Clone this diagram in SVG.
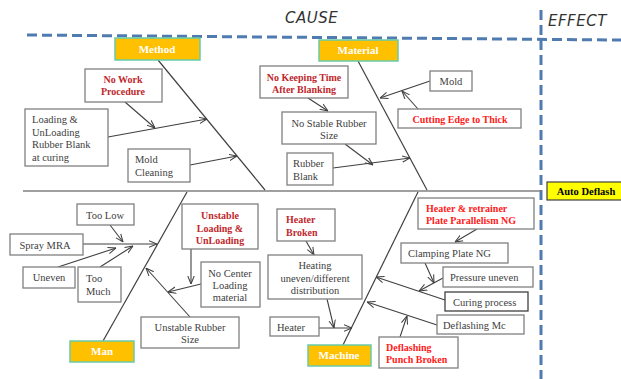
<svg xmlns="http://www.w3.org/2000/svg" width="621" height="379" viewBox="0 0 621 379">
<style>
.box{fill:#fff;stroke:#808080;stroke-width:1.3}
.cat{fill:#ffc000;stroke:#66ccaa;stroke-width:1.5}
.cl{font-family:"Liberation Serif",serif;font-weight:bold;font-size:11px;fill:#fff;text-anchor:middle}
.t{font-family:"Liberation Serif",serif;font-size:10.5px;fill:#404040}
.r{font-family:"Liberation Serif",serif;font-size:10px;font-weight:bold;fill:#c0282d}
.rb{font-family:"Liberation Serif",serif;font-size:10px;font-weight:bold;fill:#ff1a1a}
.c{text-anchor:middle}
.ln{stroke:#404040;stroke-width:1.2;fill:none}
.ar{stroke:#404040;stroke-width:1.1;fill:none;marker-end:url(#a)}
.dash{stroke:#4f7bb0;stroke-width:3;stroke-dasharray:10 5;fill:none}
.hd{font-family:"DejaVu Sans",sans-serif;font-size:15px;font-style:italic;fill:#333;letter-spacing:0.5px}
</style>
<defs>
<marker id="a" viewBox="0 0 10 10" refX="10" refY="5" markerWidth="8" markerHeight="8" orient="auto" markerUnits="userSpaceOnUse">
<path d="M0,1 L10,5 L0,9" fill="none" stroke="#404040" stroke-width="1.3"/>
</marker>
</defs>
<rect width="621" height="379" fill="#fff"/>
<g id="frame">
<line class="dash" x1="27" y1="35" x2="621" y2="40"/>
<line class="dash" x1="541" y1="10" x2="541" y2="379"/>
<text class="hd" x="285" y="23">CAUSE</text>
<text class="hd" x="548" y="26">EFFECT</text>
</g>
<g id="connectors">
<line x1="23" y1="191" x2="541" y2="191" stroke="#808080" stroke-width="1.5"/>
<line class="ln" x1="158" y1="60" x2="265" y2="190"/>
<line class="ln" x1="358" y1="61" x2="427" y2="190"/>
<line class="ln" x1="103" y1="341" x2="187" y2="192"/>
<line class="ln" x1="343" y1="345" x2="418" y2="192"/>
<path class="ar" d="M108,137 L207,119"/>
<path class="ar" d="M125,102 L155,128"/>
<path class="ar" d="M190,165 L237,156"/>
<path class="ar" d="M308,98 L328,111"/>
<path class="ar" d="M333,168 L410,158"/>
<path class="ar" d="M345,144 L373,165"/>
<path class="ar" d="M430,81 L380,98"/>
<path class="ar" d="M418,109 L402,91"/>
<path class="ar" d="M83,244 L157,244"/>
<path class="ar" d="M110,225 L123,242"/>
<path class="ar" d="M58,267 L116,248"/>
<path class="ar" d="M100,267 L133,246"/>
<path class="ar" d="M191,249 L191,284"/>
<path class="ar" d="M201,284 L168,292"/>
<path class="ar" d="M190,317 L146,268"/>
<path class="ar" d="M306,241 L314,255"/>
<path class="ar" d="M319,328 L352,328"/>
<path class="ar" d="M327,299 L334,328"/>
<path class="ar" d="M477,229 L455,242"/>
<path class="ar" d="M425,263 L434,283"/>
<path class="ar" d="M445,300 L376,277"/>
<path class="ar" d="M443,278 L419,291"/>
<path class="ar" d="M437,325 L367,302"/>
<path class="ar" d="M400,337 L407,316"/>
</g>
<g id="method"><rect class="cat" x="115" y="38" width="85" height="22"/><text class="cl" x="157" y="53">Method</text></g>
<g id="material"><rect class="cat" x="319" y="40" width="79" height="21"/><text class="cl" x="358" y="54">Material</text></g>
<g id="man"><rect class="cat" x="70" y="341" width="64" height="21"/><text class="cl" x="102" y="355">Man</text></g>
<g id="machine"><rect class="cat" x="308" y="345" width="63" height="21"/><text class="cl" x="339" y="359">Machine</text></g>
<g id="auto-deflash"><rect x="547" y="182" width="76" height="18" fill="#ffff00" stroke="#404040" stroke-width="1.2"/><text x="586" y="195" font-family="Liberation Serif,serif" font-weight="bold" font-size="10.5px" fill="#000" text-anchor="middle">Auto Deflash</text></g>
<g id="no-work"><rect class="box" x="85" y="69" width="77" height="33"/><text class="r c" x="123" y="83">No Work</text><text class="r c" x="123" y="95">Procedure</text></g>
<g id="loading"><rect class="box" x="25" y="109" width="83" height="57"/><text class="t" x="32" y="123">Loading &amp;</text><text class="t" x="32" y="136">UnLoading</text><text class="t" x="32" y="148">Rubber  Blank</text><text class="t" x="32" y="161">at curing</text></g>
<g id="mold-cleaning"><rect class="box" x="128" y="149" width="62" height="33"/><text class="t" x="135" y="163">Mold</text><text class="t" x="135" y="176">Cleaning</text></g>
<g id="no-keeping"><rect class="box" x="260" y="66" width="88" height="32"/><text class="r c" x="304" y="81">No Keeping Time</text><text class="r c" x="304" y="93">After Blanking</text></g>
<g id="no-stable"><rect class="box" x="282" y="112" width="94" height="32"/><text class="t c" x="329" y="127">No Stable Rubber</text><text class="t c" x="329" y="139">Size</text></g>
<g id="rubber-blank"><rect class="box" x="287" y="153" width="46" height="32"/><text class="t" x="293" y="167">Rubber</text><text class="t" x="293" y="180">Blank</text></g>
<g id="mold"><rect class="box" x="430" y="71" width="42" height="20"/><text class="t c" x="451" y="85">Mold</text></g>
<g id="cutting"><rect class="box" x="398" y="109" width="123" height="19"/><text class="rb c" x="460" y="123">Cutting Edge to Thick</text></g>
<g id="too-low"><rect class="box" x="77" y="204" width="57" height="21"/><text class="t c" x="105" y="219">Too Low</text></g>
<g id="spray"><rect class="box" x="10" y="234" width="73" height="21"/><text class="t c" x="45" y="249">Spray MRA</text></g>
<g id="uneven"><rect class="box" x="23" y="267" width="52" height="21"/><text class="t c" x="49" y="281">Uneven</text></g>
<g id="too-much"><rect class="box" x="78" y="267" width="43" height="35"/><text class="t" x="86" y="282">Too</text><text class="t" x="86" y="295">Much</text></g>
<g id="unstable-loading"><rect class="box" x="182" y="204" width="76" height="45"/><text class="r c" x="220" y="219">Unstable</text><text class="r c" x="220" y="232">Loading &amp;</text><text class="r c" x="220" y="244">UnLoading</text></g>
<g id="no-center"><rect class="box" x="201" y="262" width="59" height="45"/><text class="t c" x="230" y="277">No Center</text><text class="t c" x="230" y="289">Loading</text><text class="t c" x="230" y="301">material</text></g>
<g id="unstable-rubber"><rect class="box" x="141" y="317" width="98" height="31"/><text class="t c" x="190" y="331">Unstable Rubber</text><text class="t c" x="190" y="343">Size</text></g>
<g id="heater-broken"><rect class="box" x="277" y="209" width="58" height="32"/><text class="r" x="286" y="223">Heater</text><text class="r" x="286" y="236">Broken</text></g>
<g id="heating"><rect class="box" x="268" y="255" width="94" height="44"/><text class="t c" x="315" y="269">Heating</text><text class="t c" x="315" y="282">uneven/different</text><text class="t c" x="315" y="294">distribution</text></g>
<g id="heater"><rect class="box" x="270" y="317" width="49" height="19"/><text class="t" x="277" y="331">Heater</text></g>
<g id="heater-retrainer"><rect class="box" x="418" y="198" width="116" height="31"/><text class="rb" x="426" y="212">Heater &amp; retrainer</text><text class="rb" x="426" y="224">Plate  Parallelism NG</text></g>
<g id="clamping"><rect class="box" x="401" y="243" width="107" height="20"/><text class="t" x="408" y="257">Clamping Plate NG</text></g>
<g id="pressure"><rect class="box" x="443" y="267" width="90" height="20"/><text class="t" x="450" y="281">Pressure uneven</text></g>
<g id="curing"><rect x="445" y="292" width="83" height="19" fill="#fff" stroke="#404040" stroke-width="1.3"/><text class="t" x="453" y="306">Curing process</text></g>
<g id="deflashing-mc"><rect class="box" x="437" y="315" width="87" height="19"/><text class="t" x="443" y="329">Deflashing Mc</text></g>
<g id="deflashing-punch"><rect class="box" x="379" y="337" width="79" height="31"/><text class="rb" x="386" y="351">Deflashing</text><text class="rb" x="386" y="363">Punch Broken</text></g>
</svg>
